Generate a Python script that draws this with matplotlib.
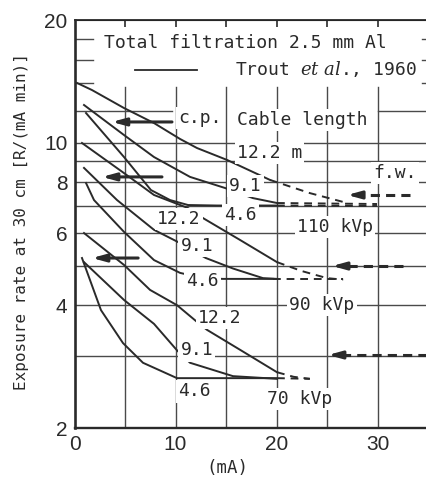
import matplotlib.pyplot as plt
from matplotlib.ticker import NullLocator

plt.rcParams['mathtext.fontset'] = 'custom'
plt.rcParams['mathtext.rm'] = 'DejaVu Sans Mono'
plt.rcParams['mathtext.it'] = 'DejaVu Serif:italic'

MONO = 'DejaVu Sans Mono'
NARROW = ['Liberation Sans Narrow', 'Liberation Sans', 'DejaVu Sans']
INK = '#2a2a2a'
GRID = '#4a4a4a'

# ------------------------------------------------------------
# curves (mA, exposure rate)
# ------------------------------------------------------------
# 110 kVp
c110_122_x = [0.25, 1.73, 4.90, 7.87, 10.45, 12.13, 15.10, 19.36]
c110_122_y = [14.02, 13.47, 12.17, 11.18, 10.22, 9.71, 9.08, 8.11]
c110_122_dash_x = [19.36, 23.3, 27.0]
c110_122_dash_y = [8.11, 7.53, 7.12]

c110_91_x = [0.94, 4.90, 7.87, 11.44, 14.90, 17.67, 20.05]
c110_91_y = [12.38, 10.45, 9.23, 8.25, 7.75, 7.32, 7.12]
c110_91_dash_x = [20.05, 29.95]
c110_91_dash_y = [7.12, 7.08]

c110_46_x = [1.14, 4.90, 7.57, 9.46, 11.24, 14.11, 20.05]
c110_46_y = [11.83, 9.23, 7.66, 7.24, 7.04, 7.02, 7.02]
c110_46_dash_x = [20.05, 29.95]
c110_46_dash_y = [7.02, 7.00]

# 90 kVp
c90_122_x = [0.74, 4.90, 7.87, 11.24, 12.72, 16.39, 20.05]
c90_122_y = [9.99, 8.43, 7.45, 6.92, 6.54, 5.78, 5.10]
c90_122_dash_x = [20.05, 22.5, 25.0, 26.6]
c90_122_dash_y = [5.10, 4.85, 4.66, 4.62]

c90_91_x = [0.94, 4.21, 7.87, 10.45, 13.0, 15.69, 18.66, 20.05]
c90_91_y = [8.68, 7.24, 6.12, 5.68, 5.22, 4.92, 4.66, 4.64]

c90_46_x = [1.14, 1.93, 4.90, 7.87, 10.45, 12.7, 14.70, 19.65]
c90_46_y = [7.97, 7.24, 6.05, 5.16, 4.80, 4.66, 4.64, 4.64]
c90_46_dash_x = [19.65, 26.6]
c90_46_dash_y = [4.64, 4.64]

# 70 kVp
c70_122_x = [0.94, 4.90, 7.48, 10.15, 12.13, 13.12, 16.39, 20.05]
c70_122_y = [6.01, 5.02, 4.36, 4.00, 3.64, 3.48, 3.11, 2.74]
c70_122_dash_x = [20.05, 21.7, 23.3]
c70_122_dash_y = [2.74, 2.67, 2.64]

c70_91_x = [0.94, 4.90, 7.87, 10.15, 11.44, 15.69, 20.05]
c70_91_y = [5.10, 4.12, 3.60, 3.10, 2.89, 2.68, 2.64]

c70_46_x = [0.74, 2.62, 4.80, 6.78, 10.15, 20.05]
c70_46_y = [5.22, 3.89, 3.23, 2.89, 2.65, 2.65]
c70_46_dash_x = [20.05, 23.3]
c70_46_dash_y = [2.65, 2.64]

solid_curves = [
    (c110_122_x, c110_122_y), (c110_91_x, c110_91_y), (c110_46_x, c110_46_y),
    (c90_122_x, c90_122_y), (c90_91_x, c90_91_y), (c90_46_x, c90_46_y),
    (c70_122_x, c70_122_y), (c70_91_x, c70_91_y), (c70_46_x, c70_46_y),
]
dashed_curves = [
    (c110_122_dash_x, c110_122_dash_y), (c110_91_dash_x, c110_91_dash_y),
    (c110_46_dash_x, c110_46_dash_y), (c90_122_dash_x, c90_122_dash_y),
    (c90_46_dash_x, c90_46_dash_y), (c70_122_dash_x, c70_122_dash_y),
    (c70_46_dash_x, c70_46_dash_y),
]

# c.p. arrows (solid) and f.w. arrows (dashed): level, from x, to x
cp_level = [11.25, 8.25, 5.22]
cp_from = [9.65, 8.66, 6.3]
cp_to = [3.7, 2.72, 1.73]
fw_level = [7.45, 4.99, 3.02]
fw_from = [33.2, 32.5, 35.2]
fw_to = [27.0, 25.5, 25.1]

# labels on the plot
label_text = ['c.p.', 'Cable length', '12.2 m', '9.1', '4.6', '110 kVp', 'f.w.',
              '12.2', '9.1', '4.6', '90 kVp', '12.2', '9.1', '4.6', '70 kVp']
label_x = [12.4, 22.5, 19.3, 16.9, 16.4, 25.8, 31.7,
           10.35, 12.1, 12.7, 24.5, 14.4, 12.1, 11.9, 22.3]
label_y = [11.5, 11.38, 9.44, 7.84, 6.65, 6.22, 8.43,
           6.51, 5.59, 4.59, 4.0, 3.72, 3.1, 2.46, 2.36]

# grid
hgrid = [3, 4, 5, 6, 7, 8, 9, 10]
hgrid_12_left = [0, 9.7]
hgrid_12_right = [30.0, 35]
hgrid_stubs = [14, 16, 18]
vgrid = [5, 10, 15, 20, 25, 30]
vgrid_top = 13.7

yticks = [2, 4, 6, 8, 10, 20]
xticks = [0, 10, 20, 30]
top_ticks = [5, 10, 15, 20, 25, 30]

# ------------------------------------------------------------
fig = plt.figure(figsize=(4.27, 4.82), dpi=100)
ax = fig.add_axes([0.1745, 0.112, 0.8255, 0.8465])
ax.set_yscale('log')
ax.set_xlim(0, 34.9)
ax.set_ylim(2, 20)

for h in hgrid:
    ax.plot([0, 35], [h, h], color=GRID, lw=1.0, zorder=1)
ax.plot(hgrid_12_left, [12, 12], color=GRID, lw=1.0, zorder=1)
ax.plot(hgrid_12_right, [12, 12], color=GRID, lw=1.0, zorder=1)
for h in hgrid_stubs:
    ax.plot([0, 1.8], [h, h], color=GRID, lw=1.0, zorder=1)
    ax.plot([34.4, 35], [h, h], color=GRID, lw=1.0, zorder=1)
for v in vgrid:
    ax.plot([v, v], [2, vgrid_top], color=GRID, lw=1.0, zorder=1)

for cx, cy in solid_curves:
    ax.plot(cx, cy, color=INK, lw=1.4, zorder=3)
for cx, cy in dashed_curves:
    ax.plot(cx, cy, color=INK, lw=1.4, ls=(0, (4, 3)), zorder=3)

for lev, x0, x1 in zip(cp_level, cp_from, cp_to):
    ax.annotate('', xy=(x1, lev), xytext=(x0, lev),
                arrowprops=dict(arrowstyle='-|>,head_length=0.8,head_width=0.22',
                                lw=2.2, color=INK, shrinkA=0, shrinkB=0),
                zorder=4)
for lev, x0, x1 in zip(fw_level, fw_from, fw_to):
    ax.plot([x0, x1 + 1.0], [lev, lev], color=INK, lw=2.2, ls=(0, (3, 2)), zorder=4)
    ax.annotate('', xy=(x1, lev), xytext=(x1 + 1.2, lev),
                arrowprops=dict(arrowstyle='-|>,head_length=0.8,head_width=0.22',
                                lw=2.2, color=INK, shrinkA=0, shrinkB=0),
                zorder=4)

box = dict(facecolor='white', edgecolor='none', pad=1.5)
for t, x, y in zip(label_text, label_x, label_y):
    ax.text(x, y, t, fontfamily=MONO, fontsize=13, color=INK,
            ha='center', va='center', bbox=box, zorder=5)

# header box text
ax.text(16.9, 17.56, 'Total filtration 2.5 mm Al', fontfamily=MONO, fontsize=13,
        color=INK, ha='center', va='center', zorder=5)
ax.text(33.9, 15.16, r'Trout $\mathit{et\ al}$., 1960', fontfamily=MONO,
        fontsize=13, color=INK, ha='right', va='center', zorder=5)
ax.plot([6.0, 12.1], [15.1, 15.1], color=INK, lw=1.3, zorder=3)

# axes styling
ax.spines['right'].set_visible(False)
ax.spines['left'].set_linewidth(1.9)
ax.spines['bottom'].set_linewidth(1.7)
ax.spines['top'].set_linewidth(1.3)
for s in ['left', 'bottom', 'top']:
    ax.spines[s].set_color(INK)

ax.yaxis.set_minor_locator(NullLocator())
ax.set_yticks(yticks)
ax.set_yticklabels([str(t) for t in yticks], fontfamily=NARROW, fontsize=15, color=INK)
ax.set_xticks(xticks)
ax.set_xticklabels([str(t) for t in xticks], fontfamily=NARROW, fontsize=15, color=INK)
ax.tick_params(axis='both', length=0, pad=5)

top = ax.secondary_xaxis('top')
top.set_xticks(top_ticks)
top.set_xticklabels([])
top.tick_params(direction='in', length=5, width=1.2, color=INK)

fig.text(22 / 427, 1 - 222 / 482, 'Exposure rate at 30 cm [R/(mA min)]',
         rotation=90, fontfamily=MONO, fontsize=11.5, color=INK,
         ha='center', va='center')
fig.text(227 / 427, 1 - 468 / 482, '(mA)', fontfamily=MONO, fontsize=12.5,
         color=INK, ha='center', va='center')

fig.savefig('out.png', dpi=100)
